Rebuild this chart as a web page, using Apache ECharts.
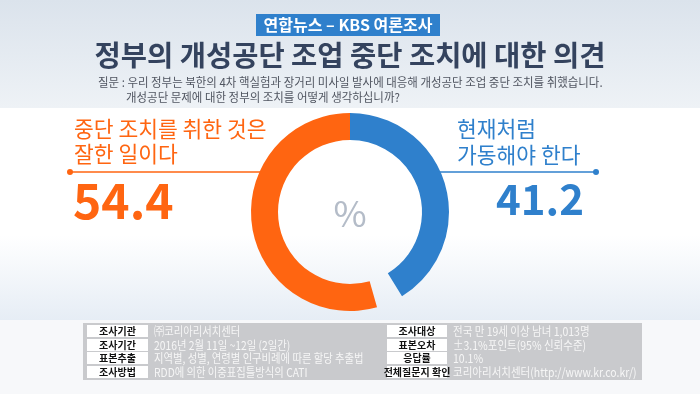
<!DOCTYPE html>
<html><head><meta charset="utf-8">
<script src="https://cdn.jsdelivr.net/npm/echarts@6/dist/echarts.min.js"></script>
<style>html,body{margin:0;padding:0;background:#fff}#c{width:700px;height:394px}</style>
</head><body><div id="c"></div>
<script>
const categories = ['현재처럼 가동해야 한다', '모름/무응답', '중단 조치를 취한 것은 잘한 일이다'];
const values = [41.2, 4.4, 54.4];
const colors = ['#2f80cc', 'rgba(0,0,0,0)', '#ff6511'];
const badgeText = '연합뉴스 – KBS 여론조사';
const titleText = '정부의 개성공단 조업 중단 조치에 대한 의견';
const questionLines = ['질문 : 우리 정부는 북한의 4차 핵실험과 장거리 미사일 발사에 대응해 개성공단 조업 중단 조치를 취했습니다.', '개성공단 문제에 대한 정부의 조치를 어떻게 생각하십니까?'];
const leftLabelLines = ['중단 조치를 취한 것은', '잘한 일이다'];
const rightLabelLines = ['현재처럼', '가동해야 한다'];
const tableLeftKeys = ['조사기관', '조사기간', '표본추출', '조사방법'];
const tableLeftVals = ['㈜코리아리서치센터', '2016년 2월 11일 ~12일 (2일간)', '지역별, 성별, 연령별 인구비례에 따른 할당 추출법', 'RDD에 의한 이중표집틀방식의 CATI'];
const tableRightKeys = ['조사대상', '표본오차', '응답률', '전체질문지 확인'];
const tableRightVals = ['전국 만 19세 이상 남녀 1,013명', '±3.1%포인트(95% 신뢰수준)', '10.1%', '코리아리서치센터(http://www.kr.co.kr/)'];

const F = '"Noto Sans CJK KR", "Noto Sans", sans-serif';
const chart = echarts.init(document.getElementById('c'), null, {renderer: 'canvas'});

const g = [];
// backgrounds
g.push({type:'rect', shape:{x:0,y:0,width:700,height:394}, style:{fill:'#f3f5f8'}, z:-10});
g.push({type:'rect', shape:{x:0,y:0,width:700,height:108}, style:{fill:new echarts.graphic.LinearGradient(0,0,0,1,[{offset:0,color:'#dbe3ec'},{offset:1,color:'#eef2f6'}])}, z:-9});
g.push({type:'rect', shape:{x:0,y:108,width:700,height:212}, style:{fill:new echarts.graphic.LinearGradient(0,0,0,1,[{offset:0,color:'#ffffff'},{offset:0.6,color:'#ffffff'},{offset:1,color:'#e6edf5'}])}, z:-9});
g.push({type:'rect', shape:{x:0,y:320,width:700,height:74}, style:{fill:'#f7f8fa'}, z:-9});

// badge
g.push({type:'rect', shape:{x:256,y:14,width:184,height:22}, style:{fill:'#2f80cc'}});
g.push({type:'text', x:348, y:25, style:{text:badgeText, fill:'#fff', font:'bold 16px '+F, textAlign:'center', textVerticalAlign:'middle'}});
// title
g.push({type:'text', x:350, y:55, style:{text:titleText, fill:'#34435e', font:'bold 28.5px '+F, textAlign:'center', textVerticalAlign:'middle'}});
// question
g.push({type:'text', x:98, y:82, scaleX:0.955, style:{text:questionLines[0], fill:'#505560', font:'12px '+F, textAlign:'left', textVerticalAlign:'middle'}});
g.push({type:'text', x:126, y:97, scaleX:0.955, style:{text:questionLines[1], fill:'#505560', font:'12px '+F, textAlign:'left', textVerticalAlign:'middle'}});

// left label
g.push({type:'text', x:74, y:129, style:{text:leftLabelLines[0], fill:colors[2], font:'21.5px '+F, textAlign:'left', textVerticalAlign:'middle'}});
g.push({type:'text', x:74, y:154, style:{text:leftLabelLines[1], fill:colors[2], font:'21.5px '+F, textAlign:'left', textVerticalAlign:'middle'}});
g.push({type:'line', shape:{x1:70,y1:172,x2:262,y2:172}, style:{stroke:colors[2], lineWidth:1.5}});
g.push({type:'circle', shape:{cx:70,cy:172,r:3}, style:{fill:colors[2]}});
g.push({type:'text', x:73, y:201, style:{text:String(values[2]), fill:colors[2], font:'bold 48px '+F, textAlign:'left', textVerticalAlign:'middle'}});

// right label
g.push({type:'text', x:457, y:129, style:{text:rightLabelLines[0], fill:colors[0], font:'21.5px '+F, textAlign:'left', textVerticalAlign:'middle'}});
g.push({type:'text', x:457, y:155, style:{text:rightLabelLines[1], fill:colors[0], font:'21.5px '+F, textAlign:'left', textVerticalAlign:'middle'}});
g.push({type:'line', shape:{x1:440,y1:172,x2:596,y2:172}, style:{stroke:colors[0], lineWidth:1.5}});
g.push({type:'circle', shape:{cx:596,cy:172,r:3}, style:{fill:colors[0]}});
g.push({type:'text', x:584, y:199, style:{text:String(values[0]), fill:colors[0], font:'bold 42px '+F, textAlign:'right', textVerticalAlign:'middle'}});

// percent sign
g.push({type:'text', x:350, y:213, style:{text:'%', fill:'#b4bcc8', font:'36px '+F, textAlign:'center', textVerticalAlign:'middle'}});

// tables
g.push({type:'rect', shape:{x:83,y:323,width:559,height:57}, style:{fill:'#c9cacd'}});
const rowY = [325, 339, 352, 366];
function table(keys, vals, kx, kw, vx, sx) {
  keys.forEach((k,i)=>{
    g.push({type:'rect', shape:{x:kx,y:rowY[i],width:kw,height:12}, style:{fill:'#fff'}});
    g.push({type:'text', x:kx+kw/2, y:rowY[i]+6.5, style:{text:k, fill:'#111', font:'bold 10px '+F, textAlign:'center', textVerticalAlign:'middle'}});
    g.push({type:'text', x:vx, y:rowY[i]+6.5, scaleX:sx, style:{text:vals[i], fill:'#f6f6f6', font:'12px '+F, textAlign:'left', textVerticalAlign:'middle'}});
  });
}
table(tableLeftKeys, tableLeftVals, 87, 61, 154, 0.86);
table(tableRightKeys, tableRightVals, 387, 60, 453, 0.875);

chart.setOption({
  animation:false,
  graphic: g,
  series:[{
    type:'pie', center:[350,212], radius:[72,99], startAngle:90, clockwise:true,
    label:{show:false}, labelLine:{show:false}, silent:true, z:5,
    data: categories.map((c,i)=>({name:c, value:values[i], itemStyle:{color:colors[i]}}))
  }]
});
</script></body></html>
